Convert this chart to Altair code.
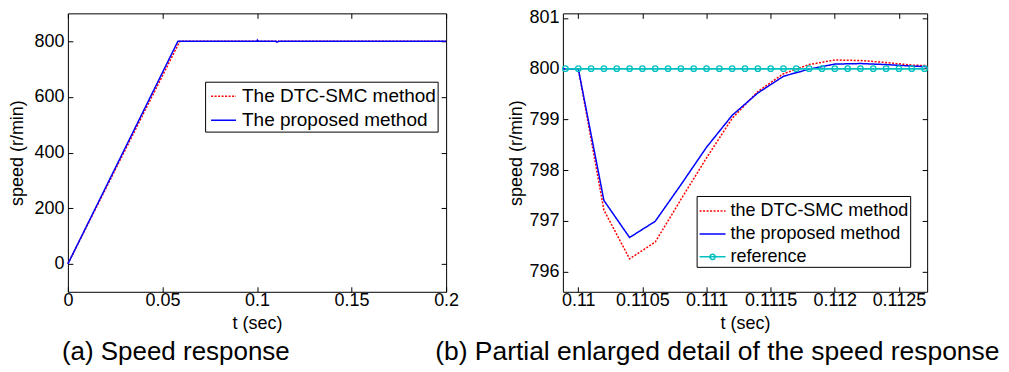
import altair as alt
import pandas as pd

FONT = "Liberation Sans"

# ---------------- Panel (a): speed response ----------------
a_series = ["The DTC-SMC method", "The proposed method"]
a_t_smc = [0.0, 0.0592, 0.1, 0.1002, 0.1006, 0.11, 0.1104, 0.1114, 0.2]
a_v_smc = [0.0, 800.0, 800.0, 805.0, 800.0, 800.0, 796.25, 799.5, 800.0]
a_t_prop = [0.0, 0.0582, 0.1, 0.1002, 0.1006, 0.11, 0.1104, 0.1114, 0.2]
a_v_prop = [0.0, 800.0, 800.0, 804.0, 800.0, 800.0, 796.7, 799.5, 800.0]
a_xticks = [0, 0.05, 0.1, 0.15, 0.2]
a_yticks = [0, 200, 400, 600, 800]
a_xdomain = [0, 0.2]
a_ydomain = [-100, 900]

# ---------------- Panel (b): enlarged detail ----------------
b_series = ["the DTC-SMC method", "the proposed method", "reference"]
b_t = [0.1098, 0.1100, 0.1102, 0.1104, 0.1106, 0.1108, 0.1110, 0.1112,
       0.1114, 0.1116, 0.1118, 0.1120, 0.1122, 0.1124, 0.1126, 0.1128]
b_v_smc = [800.0, 800.0, 797.21, 796.25, 796.58, 797.42, 798.24, 799.02,
           799.55, 799.90, 800.08, 800.17, 800.16, 800.12, 800.07, 800.05]
b_v_prop = [800.0, 800.0, 797.40, 796.67, 796.99, 797.71, 798.45, 799.08,
            799.52, 799.85, 799.99, 800.09, 800.10, 800.08, 800.05, 800.03]
b_t_ref = [0.1099, 0.1100, 0.1101, 0.1102, 0.1103, 0.1104, 0.1105, 0.1106,
           0.1107, 0.1108, 0.1109, 0.1110, 0.1111, 0.1112, 0.1113, 0.1114,
           0.1115, 0.1116, 0.1117, 0.1118, 0.1119, 0.1120, 0.1121, 0.1122,
           0.1123, 0.1124, 0.1125, 0.1126, 0.1127]
b_v_ref = [800.0] * len(b_t_ref)
b_xticks = [0.11, 0.1105, 0.111, 0.1115, 0.112, 0.1125]
b_yticks = [796, 797, 798, 799, 800, 801]
b_xdomain = [0.10988, 0.11272]
b_ydomain = [795.6, 801.09]

RED, BLUE, CYAN = "#ff0000", "#0000ff", "#00c0c0"

df_a = pd.DataFrame({
    "t": a_t_smc + a_t_prop,
    "v": a_v_smc + a_v_prop,
    "series": [a_series[0]] * len(a_t_smc) + [a_series[1]] * len(a_t_prop),
})
df_b = pd.DataFrame({
    "t": b_t + b_t + b_t_ref,
    "v": b_v_smc + b_v_prop + b_v_ref,
    "series": [b_series[0]] * len(b_t) + [b_series[1]] * len(b_t) + [b_series[2]] * len(b_t_ref),
})
df_ref = pd.DataFrame({"t": b_t_ref, "v": b_v_ref})


def main_axes(xticks, yticks, xfmt, title_x, title_y, ytitle_pad):
    xa = alt.Axis(values=xticks, labelExpr=xfmt, orient="bottom", offset=-5, tickSize=5,
                  domain=False, grid=False, labelPadding=0, title=title_x, titlePadding=5,
                  labelFlush=False)
    ya = alt.Axis(values=yticks, orient="left", offset=-5, tickSize=5, domain=False,
                  grid=False, labelPadding=4, title=title_y, titlePadding=ytitle_pad)
    return xa, ya


def tick_axes(xticks, yticks):
    xa = alt.Axis(values=xticks, orient="top", offset=-5, tickSize=5, domain=False,
                  grid=False, labels=False, title=None)
    ya = alt.Axis(values=yticks, orient="right", offset=-5, tickSize=5, domain=False,
                  grid=False, labels=False, title=None)
    return xa, ya


def legend(x, y, size, font_size, row_pad, pad, sym_off, lab_off, symbol_type="stroke"):
    return alt.Legend(title=None, orient="none", legendX=x, legendY=y, direction="vertical",
                      strokeColor="black", fillColor="white", padding=pad, labelFont=FONT,
                      labelFontSize=font_size, labelColor="black", symbolType=symbol_type,
                      symbolSize=size, symbolStrokeWidth=1.5, rowPadding=row_pad,
                      labelOffset=lab_off, symbolOffset=sym_off,
                      cornerRadius=0, labelLimit=500, symbolFillColor="white")


# ---------- panel a ----------
ax_x, ax_y = main_axes(a_xticks, a_yticks, "format(datum.value, '~g')", "t (sec)", "speed (r/min)", 7)
tk_x, tk_y = tick_axes(a_xticks, a_yticks)
leg_a = legend(137.5, 68.5, 625, 19, -1, 1, 4, 5)
sx_a = alt.Scale(domain=a_xdomain, nice=False, zero=False)
sy_a = alt.Scale(domain=a_ydomain, nice=False, zero=False)

lines_a = alt.Chart(df_a).mark_line(strokeWidth=1.5).encode(
    x=alt.X("t:Q", scale=sx_a, axis=ax_x),
    y=alt.Y("v:Q", scale=sy_a, axis=ax_y),
    color=alt.Color("series:N", scale=alt.Scale(domain=a_series, range=[RED, BLUE]), legend=leg_a),
    strokeDash=alt.StrokeDash("series:N", scale=alt.Scale(domain=a_series, range=[[2, 1.5], [1, 0]]), legend=leg_a),
)
ticks_a = alt.Chart(df_a).mark_point(opacity=0).encode(
    x=alt.X("t:Q", scale=sx_a, axis=tk_x),
    y=alt.Y("v:Q", scale=sy_a, axis=tk_y),
)
chart_a = alt.layer(lines_a, ticks_a).resolve_axis(x="independent", y="independent").properties(
    width=379, height=279,
    title=alt.TitleParams(text="(a) Speed response", orient="bottom", anchor="start", frame="group",
                          dx=-6, offset=6, fontSize=26, font=FONT, fontWeight="normal", color="black"),
)

# ---------- panel b ----------
bx_x, bx_y = main_axes(b_xticks, b_yticks, "format(datum.value, '.4~f')", "t (sec)", "speed (r/min)", 3)
tb_x, tb_y = tick_axes(b_xticks, b_yticks)
ref_shape = ("datum.label === 'reference' ? "
             "'M-1,0H1M0.2,0A0.2,0.2 0 1,0 -0.2,0A0.2,0.2 0 1,0 0.2,0' : 'stroke'")
leg_b = legend(134, 183, 676, 18, 0, 1, 1, 4, symbol_type=alt.ExprRef(ref_shape))
sx_b = alt.Scale(domain=b_xdomain, nice=False, zero=False)
sy_b = alt.Scale(domain=b_ydomain, nice=False, zero=False)

lines_b = alt.Chart(df_b).mark_line(strokeWidth=1.5, clip=True).encode(
    x=alt.X("t:Q", scale=sx_b, axis=bx_x),
    y=alt.Y("v:Q", scale=sy_b, axis=bx_y),
    color=alt.Color("series:N", scale=alt.Scale(domain=b_series, range=[RED, BLUE, CYAN]), legend=leg_b),
    strokeDash=alt.StrokeDash("series:N", scale=alt.Scale(domain=b_series, range=[[2, 1.5], [1, 0], [1, 0]]), legend=leg_b),
)
ref_line = alt.Chart(df_ref).mark_line(strokeWidth=1.5, color=CYAN, clip=True).encode(
    x=alt.X("t:Q", scale=sx_b, axis=tb_x),
    y=alt.Y("v:Q", scale=sy_b, axis=tb_y),
)
ref_pts = alt.Chart(df_ref).mark_point(shape="circle", size=30, filled=False, color=CYAN,
                                       strokeWidth=1.3, opacity=1).encode(
    x=alt.X("t:Q", scale=sx_b, axis=None),
    y=alt.Y("v:Q", scale=sy_b, axis=None),
)
chart_b = alt.layer(lines_b, ref_line, ref_pts).resolve_axis(x="independent", y="independent").properties(
    width=365, height=279,
    title=alt.TitleParams(text="(b) Partial enlarged detail of the speed response", orient="bottom",
                          anchor="start", frame="group", dx=-128, offset=6, fontSize=26.5, font=FONT,
                          fontWeight="normal", color="black"),
)

chart = alt.hconcat(chart_a, chart_b, spacing=117, bounds="flush").resolve_scale(
    color="independent", strokeDash="independent"
).resolve_legend(
    color="independent", strokeDash="independent"
).configure(
    padding={"left": 0, "top": 0, "right": 0, "bottom": 0},
    font=FONT,
).configure_view(
    stroke="black", strokeWidth=1, fill="white"
).configure_axis(
    labelFont=FONT, labelFontSize=18, labelColor="black", titleFont=FONT, titleFontSize=18,
    titleFontWeight="normal", titleColor="black", tickColor="black", tickWidth=1,
)

chart.save("out.html", embed_options={"renderer": "svg", "actions": False})
